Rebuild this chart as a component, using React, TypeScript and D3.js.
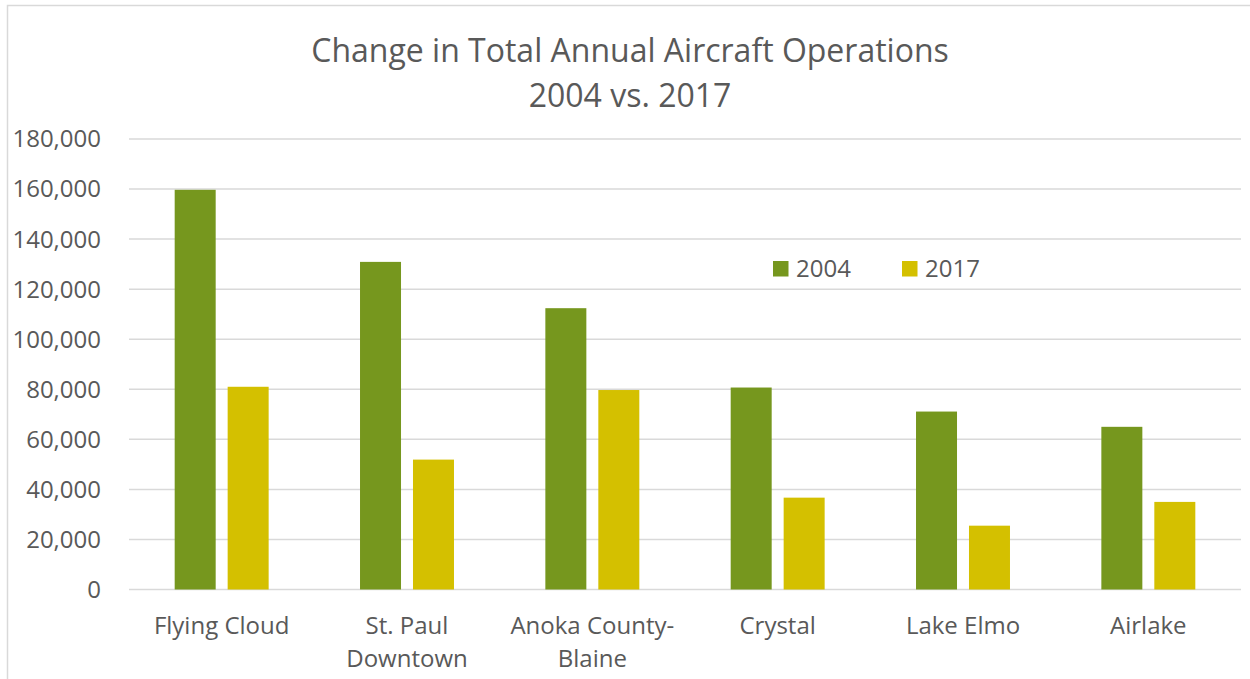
import React from 'react';
import * as d3 from 'd3';

const categories = ['Flying Cloud', 'St. Paul Downtown', 'Anoka County-Blaine', 'Crystal', 'Lake Elmo', 'Airlake'];
const categoryLines = [['Flying Cloud'], ['St. Paul', 'Downtown'], ['Anoka County-', 'Blaine'], ['Crystal'], ['Lake Elmo'], ['Airlake']];
const series = ['2004', '2017'];
const values2004 = [159700, 130900, 112400, 80700, 71100, 65000];
const values2017 = [81000, 51900, 79700, 36700, 25500, 35000];
const yTicks = [0, 20000, 40000, 60000, 80000, 100000, 120000, 140000, 160000, 180000];
const titleLines = ['Change in Total Annual Aircraft Operations', '2004 vs. 2017'];

const colors = ['#76971e', '#d4c000'];
const textColor = '#595959';
const gridColor = '#d9d9d9';
const font = '"Open Sans", sans-serif';

const W = 1250;
const H = 679;

const App = () => {
  const x0 = d3.scaleBand<string>().domain(categories).range([129, 1241]).padding(0);
  const inner = x0.bandwidth() * 0.507;
  const x1 = d3
    .scaleBand<string>()
    .domain(series)
    .range([(x0.bandwidth() - inner) / 2, (x0.bandwidth() + inner) / 2])
    .paddingInner(0.226);
  const y = d3.scaleLinear().domain([0, 180000]).range([589.5, 139]);
  const fmt = d3.format(',');
  const seriesValues = [values2004, values2017];

  return (
    <div style={{ position: 'fixed', left: 0, top: 0 }}>
      <svg width={W} height={H} style={{ display: 'block' }} fontFamily={font}>
        <rect x={0} y={0} width={W} height={H} fill="#fff" />
        <path d={`M7.5,${H} V5.5 H${W}`} fill="none" stroke={gridColor} strokeWidth={1.5} />

        {titleLines.map((t, i) => (
          <text key={t} x={630} y={62 + i * 45} textAnchor="middle" fontSize={32} fill={textColor}>
            {t}
          </text>
        ))}

        {yTicks.map((t) => (
          <g key={t}>
            <line x1={129} x2={1241} y1={y(t)} y2={y(t)} stroke={gridColor} strokeWidth={1.5} />
            <text x={101} y={y(t)} dy="0.35em" textAnchor="end" fontSize={24} fill={textColor}>
              {fmt(t)}
            </text>
          </g>
        ))}

        {categories.map((c, ci) => (
          <g key={c} transform={`translate(${x0(c)},0)`}>
            {series.map((s, si) => (
              <rect
                key={s}
                x={x1(s)}
                y={y(seriesValues[si][ci])}
                width={x1.bandwidth()}
                height={y(0) - y(seriesValues[si][ci])}
                fill={colors[si]}
              />
            ))}
            {categoryLines[ci].map((line, li) => (
              <text
                key={line}
                x={x0.bandwidth() / 2}
                y={634 + li * 33}
                textAnchor="middle"
                fontSize={24}
                fill={textColor}
              >
                {line}
              </text>
            ))}
          </g>
        ))}

        {series.map((s, si) => (
          <g key={s} transform={`translate(${773 + si * 129},0)`}>
            <rect x={0} y={261} width={15.5} height={15.5} fill={colors[si]} />
            <text x={23} y={277} fontSize={24} fill={textColor}>
              {s}
            </text>
          </g>
        ))}
      </svg>
    </div>
  );
};

export default App;
